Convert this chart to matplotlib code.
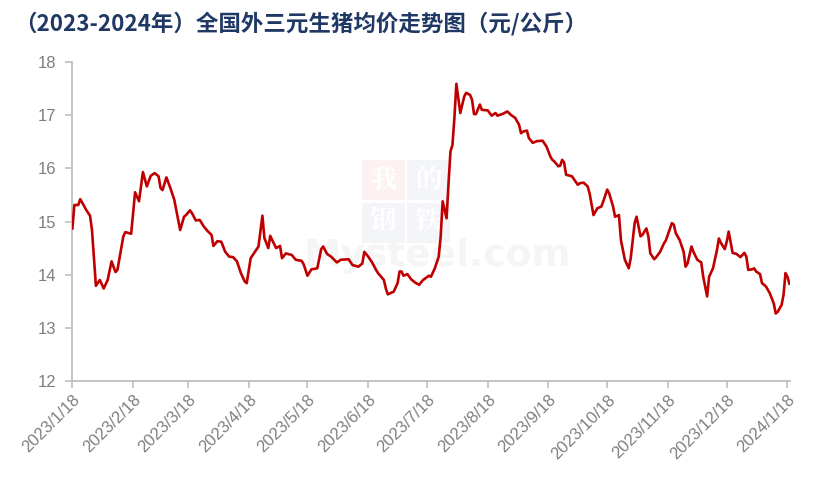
import matplotlib
matplotlib.use("Agg")
import matplotlib.pyplot as plt
from matplotlib.patches import Rectangle
from matplotlib import font_manager
import pandas as pd

# ---------------- data ----------------
start_date = "2023-01-18"
day_offsets = [
    0, 1, 3, 4, 6, 7, 9, 10, 12, 14, 16, 18, 20, 22, 23, 26, 27, 30, 32, 34,
    36, 38, 40, 42, 44, 45, 46, 48, 50, 52, 55, 57, 58, 60, 61, 63, 65, 67, 69, 71,
    72, 74, 76, 78, 80, 82, 84, 86, 88, 89, 91, 93, 95, 97, 98, 100, 101, 102, 104, 106,
    107, 109, 112, 114, 117, 118, 120, 122, 125, 127, 128, 130, 132, 135, 137, 141, 143, 146, 148, 149,
    151, 153, 155, 156, 159, 160, 161, 164, 166, 167, 168, 169, 171, 173, 175, 177, 179, 182, 183, 185,
    187, 188, 189, 191, 192, 193, 194, 195, 196, 198, 200, 201, 203, 204, 205, 206, 208, 209, 212, 214,
    216, 217, 220, 222, 224, 226, 228, 229, 230, 232, 233, 235, 237, 240, 242, 244, 245, 246, 248, 249,
    250, 251, 252, 254, 255, 258, 259, 261, 263, 264, 266, 268, 270, 271, 273, 274, 276, 277, 279, 280,
    282, 284, 285, 287, 288, 290, 291, 293, 294, 295, 297, 298, 300, 302, 303, 306, 307, 308, 310, 312,
    313, 314, 316, 317, 319, 321, 322, 324, 325, 327, 329, 330, 331, 333, 334, 335, 337, 339, 341, 343,
    344, 345, 347, 348, 349, 351, 352, 354, 356, 358, 359, 360, 362, 363, 364, 365, 366,
]
prices = [
    14.87, 15.31, 15.31, 15.42, 15.29, 15.22, 15.11, 14.84, 13.79, 13.90, 13.74, 13.90, 14.25, 14.05, 14.09, 14.72, 14.80, 14.77, 15.55, 15.38,
    15.93, 15.66, 15.86, 15.91, 15.85, 15.63, 15.59, 15.83, 15.63, 15.41, 14.84, 15.09, 15.12, 15.21, 15.16, 15.02, 15.03, 14.91, 14.82, 14.75,
    14.54, 14.63, 14.62, 14.43, 14.34, 14.33, 14.25, 14.03, 13.87, 13.84, 14.31, 14.42, 14.53, 15.11, 14.69, 14.50, 14.73, 14.65, 14.50, 14.54,
    14.31, 14.40, 14.37, 14.28, 14.26, 14.20, 13.98, 14.10, 14.12, 14.48, 14.53, 14.39, 14.34, 14.23, 14.28, 14.29, 14.18, 14.15, 14.21, 14.43,
    14.34, 14.23, 14.09, 14.03, 13.90, 13.74, 13.63, 13.68, 13.84, 14.06, 14.06, 13.98, 14.01, 13.91, 13.85, 13.81, 13.90, 13.98, 13.96, 14.12,
    14.34, 14.72, 15.38, 15.06, 15.72, 16.32, 16.44, 16.95, 17.59, 17.04, 17.35, 17.42, 17.38, 17.29, 17.02, 17.02, 17.20, 17.10, 17.09, 16.99,
    17.04, 16.99, 17.03, 17.07, 17.00, 16.95, 16.82, 16.66, 16.69, 16.71, 16.57, 16.48, 16.51, 16.52, 16.41, 16.22, 16.16, 16.13, 16.04, 16.05,
    16.16, 16.11, 15.88, 15.86, 15.85, 15.69, 15.72, 15.73, 15.66, 15.53, 15.12, 15.25, 15.28, 15.38, 15.60, 15.53, 15.28, 15.09, 15.12, 14.65,
    14.28, 14.12, 14.31, 14.97, 15.09, 14.72, 14.75, 14.87, 14.72, 14.40, 14.29, 14.33, 14.43, 14.59, 14.65, 14.97, 14.94, 14.78, 14.65, 14.43,
    14.15, 14.21, 14.53, 14.43, 14.28, 14.23, 13.96, 13.59, 13.96, 14.12, 14.46, 14.68, 14.60, 14.48, 14.62, 14.81, 14.41, 14.39, 14.33, 14.41,
    14.34, 14.09, 14.10, 14.12, 14.06, 14.01, 13.84, 13.78, 13.65, 13.46, 13.27, 13.30, 13.43, 13.62, 14.03, 13.96, 13.83,
]
tick_dates = ["2023-01-18", "2023-02-18", "2023-03-18", "2023-04-18", "2023-05-18", "2023-06-18",
              "2023-07-18", "2023-08-18", "2023-09-18", "2023-10-18", "2023-11-18", "2023-12-18", "2024-01-18"]
tick_labels = ["2023/1/18", "2023/2/18", "2023/3/18", "2023/4/18", "2023/5/18", "2023/6/18",
               "2023/7/18", "2023/8/18", "2023/9/18", "2023/10/18", "2023/11/18", "2023/12/18", "2024/1/18"]
y_ticks = [12, 13, 14, 15, 16, 17, 18]
title_text = "（2023-2024年）全国外三元生猪均价走势图（元/公斤）"

# ---------------- fonts ----------------
available = {f.name for f in font_manager.fontManager.ttflist}
tick_family = [f for f in ["Liberation Sans Narrow", "Liberation Sans", "DejaVu Sans"] if f in available]
plt.rcParams['font.family'] = ['Noto Sans CJK SC', 'DejaVu Sans']

dates = pd.Timestamp(start_date) + pd.to_timedelta(day_offsets, unit="D")

fig = plt.figure(figsize=(8.15, 4.87), dpi=100)
ax = fig.add_axes([72 / 815, 1 - 381 / 487, (790 - 72) / 815, (381 - 62) / 487])
ax.patch.set_visible(False)

# watermark (very faint)
wm_kw = dict(transform=fig.transFigure, zorder=0, clip_on=False, linewidth=0)
ax.add_patch(Rectangle((362 / 815, 1 - 200 / 487), 43 / 815, 40 / 487, facecolor="#FDF1F1", **wm_kw))
ax.add_patch(Rectangle((407 / 815, 1 - 200 / 487), 43 / 815, 40 / 487, facecolor="#F3F5F9", **wm_kw))
ax.add_patch(Rectangle((362 / 815, 1 - 243 / 487), 43 / 815, 40 / 487, facecolor="#F3F5F9", **wm_kw))
ax.add_patch(Rectangle((407 / 815, 1 - 243 / 487), 43 / 815, 40 / 487, facecolor="#F3F5F9", **wm_kw))
for ch, (cx, cy) in zip("我的钢铁", [(383, 180), (428, 180), (383, 221), (428, 221)]):
    ax.text(cx / 815, 1 - cy / 487, ch, transform=fig.transFigure, ha="center", va="center",
            fontsize=19, color="white", fontweight="bold", zorder=0.5,
            family=['Noto Serif CJK SC', 'Noto Sans CJK SC'])
ax.text(437 / 815, 1 - 256 / 487, "Mysteel.com", transform=fig.transFigure, ha="center", va="center",
        fontsize=27, color="#F5F5F5", fontweight="bold", zorder=0.6, family=["DejaVu Sans"])

ax.plot(dates, prices, color="#C00000", linewidth=1.9, zorder=3, solid_joinstyle="round")

ax.set_ylim(12, 18)
ax.set_yticks(y_ticks)
ax.set_xlim(pd.Timestamp(start_date) - pd.Timedelta(days=0.2), pd.Timestamp(start_date) + pd.Timedelta(days=366.3))
ax.set_xticks(pd.to_datetime(tick_dates))
ax.set_xticklabels(tick_labels, rotation=45, ha="right", va="top", rotation_mode="anchor")

for s in ["top", "right"]:
    ax.spines[s].set_visible(False)
for s in ["left", "bottom"]:
    ax.spines[s].set_color("#BFBFBF")
    ax.spines[s].set_linewidth(1.3)
ax.tick_params(axis="both", colors="#BFBFBF", length=5, width=1.2)
ax.tick_params(axis="y", labelcolor="#7F7F7F", labelsize=12, pad=6)
ax.tick_params(axis="x", labelcolor="#7F7F7F", labelsize=12, pad=3)
for lab in ax.get_xticklabels() + ax.get_yticklabels():
    lab.set_family(tick_family)

fig.text(14 / 815, 1 - 24 / 487, title_text, ha="left", va="center", fontsize=16.2,
         fontweight="bold", color="#1F3864", family=['Noto Sans CJK SC', 'DejaVu Sans'])

fig.savefig("out.png", dpi=100, facecolor="white")
